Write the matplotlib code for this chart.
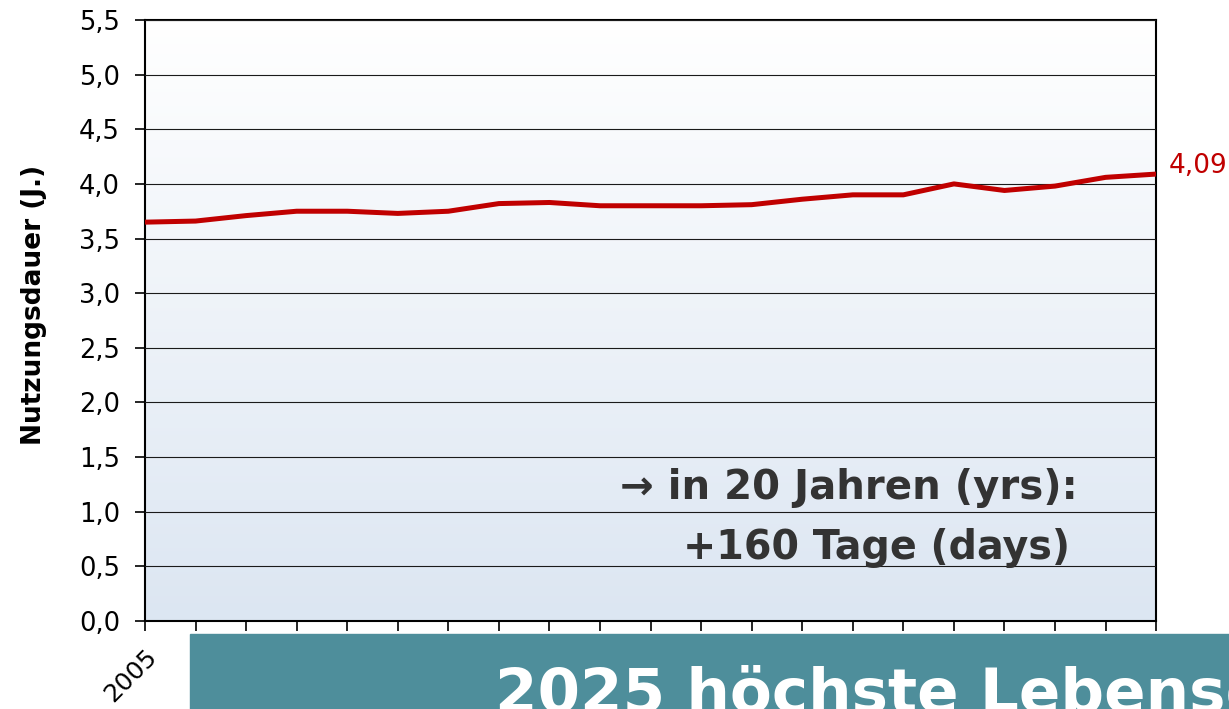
import numpy as np
import matplotlib
matplotlib.use("Agg")
import matplotlib.pyplot as plt
from matplotlib.patches import Rectangle
from matplotlib.ticker import FuncFormatter, MultipleLocator

# --- data ---
years = list(range(2005, 2026))
nutzungsdauer = [3.65, 3.66, 3.71, 3.75, 3.75, 3.73, 3.75, 3.82, 3.83, 3.80, 3.80,
                 3.80, 3.81, 3.86, 3.90, 3.90, 4.00, 3.94, 3.98, 4.06, 4.09]
y_label = "Nutzungsdauer (J.)"
note_line1 = "\u2192 in 20 Jahren (yrs):"
note_line2 = "+160 Tage (days)"
banner_text = "2025 höchste Lebensdauer"

line_red = "#C00000"
banner_col = "#4E8E9B"
text_dark = "#333333"

plt.rcParams['font.family'] = ['DejaVu Sans']

fig = plt.figure(figsize=(12.29, 7.09), dpi=100)
ax = fig.add_axes([0.118, 0.1241, 0.8227, 0.8477])

# gradient background: white at top -> pale blue at bottom
grad = np.linspace(0, 1, 256).reshape(-1, 1)
top = np.array([1.0, 1.0, 1.0])
bot = np.array([220, 230, 242]) / 255
img = top + (bot - top) * grad[..., None]
ax.imshow(img, extent=[years[0], years[-1], 0, 5.5], origin='upper', aspect='auto', zorder=0)

ax.set_xlim(years[0], years[-1])
ax.set_ylim(0, 5.5)

ax.yaxis.set_major_locator(MultipleLocator(0.5))
ax.yaxis.set_major_formatter(FuncFormatter(lambda v, p: f"{v:.1f}".replace('.', ',')))
ax.grid(axis='y', color='#1a1a1a', lw=0.8, zorder=1)
ax.set_axisbelow(False)

ax.plot(years, nutzungsdauer, color=line_red, lw=3.6, solid_joinstyle='round', zorder=3)

last = nutzungsdauer[-1]
ax.annotate(f"{last:.2f}".replace('.', ','), xy=(years[-1], last), xytext=(9, 6),
            textcoords='offset points', color=line_red, fontsize=19,
            va='center', ha='left', annotation_clip=False)

# only the first year label is visible, the banner hides the rest
ax.set_xticks(years)
ax.set_xticklabels([str(y) if y == years[0] else '' for y in years],
                   rotation=45, ha='right', rotation_mode='anchor', fontsize=18)
ax.tick_params(axis='both', direction='out', length=7, width=1.2, color='black')
ax.tick_params(axis='y', labelsize=18.5, pad=11)
ax.tick_params(axis='x', pad=10)

for s in ax.spines.values():
    s.set_linewidth(1.5)
    s.set_color('black')

ax.set_ylabel(y_label, fontsize=19, fontweight='bold')
ax.yaxis.set_label_coords(-0.097, 0.526)

ax.text(0.696, 0.221, note_line1, transform=ax.transAxes, ha='center', va='center',
        fontsize=29, fontweight='bold', color=text_dark, zorder=4)
ax.text(0.723, 0.121, note_line2, transform=ax.transAxes, ha='center', va='center',
        fontsize=28.5, fontweight='bold', color=text_dark, zorder=4)

# banner at the bottom (its text runs off the edge, as in the source slide)
fig.add_artist(Rectangle((190 / 1229, 0), 1 - 190 / 1229, 75 / 709,
                         transform=fig.transFigure, color=banner_col, zorder=10))
fig.text(495 / 1229, -3 / 709, banner_text, ha='left', va='baseline',
         fontsize=44, fontweight='bold', color='white', zorder=11)

fig.savefig("out.png", dpi=100)
